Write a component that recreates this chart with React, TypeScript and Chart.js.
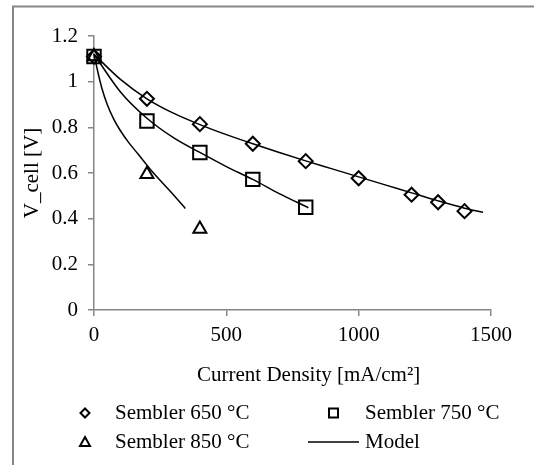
import React, { useEffect, useRef } from "react";
import { Chart, registerables } from "chart.js";

Chart.register(...registerables);

const currents650 = [0, 200, 400, 600, 800, 1000, 1200, 1300, 1400];
const volts650 = [1.11, 0.925, 0.814, 0.728, 0.652, 0.577, 0.505, 0.472, 0.433];

const currents750 = [0, 200, 400, 600, 800];
const volts750 = [1.11, 0.828, 0.69, 0.572, 0.45];

const currents850 = [0, 200, 400];
const volts850 = [1.11, 0.595, 0.355];

const modelX650 = [0, 100, 200, 300, 400, 500, 600, 700, 800, 900, 1000, 1100, 1200, 1300, 1400, 1470];
const modelV650 = [1.12, 1.01, 0.925, 0.862, 0.812, 0.768, 0.728, 0.69, 0.653, 0.618, 0.583, 0.548, 0.513, 0.478, 0.446, 0.428];

const modelX750 = [0, 100, 200, 300, 400, 500, 600, 700, 810];
const modelV750 = [1.12, 0.955, 0.84, 0.755, 0.69, 0.628, 0.572, 0.51, 0.448];

const modelX850 = [0, 15, 30, 50, 75, 100, 130, 165, 210, 260, 300, 345];
const modelV850 = [1.12, 1.04, 0.97, 0.9, 0.835, 0.785, 0.735, 0.685, 0.62, 0.555, 0.505, 0.445];

const xTicks = [0, 500, 1000, 1500];
const yTicks = [0, 0.2, 0.4, 0.6, 0.8, 1, 1.2];

const legendLabels = ["Sembler 650 °C", "Sembler 750 °C", "Sembler 850 °C", "Model"];
const xTitle = "Current Density [mA/cm²]";
const yTitle = "V_cell [V]";

const FONT = '"Liberation Serif", "Times New Roman", serif';
const AXIS = "#868686";

const toPts = (xs: number[], ys: number[]) => xs.map((x, i) => ({ x, y: ys[i] }));

const decorPlugin = {
  id: "decor",
  afterDraw(chart: any) {
    const ctx = chart.ctx as CanvasRenderingContext2D;
    ctx.save();
    ctx.strokeStyle = AXIS;
    ctx.lineWidth = 2;
    ctx.beginPath();
    ctx.moveTo(13, 465);
    ctx.lineTo(13, 6.5);
    ctx.lineTo(534, 6.5);
    ctx.stroke();

    ctx.fillStyle = "#000";
    ctx.font = `21px ${FONT}`;
    ctx.textAlign = "left";
    ctx.textBaseline = "middle";
    ctx.fillText(xTitle, 197, 375);
    ctx.save();
    ctx.translate(32, 173);
    ctx.rotate(-Math.PI / 2);
    ctx.textAlign = "center";
    ctx.fillText(yTitle, 0, 0);
    ctx.restore();

    const row1 = 413;
    const row2 = 442;
    ctx.fillText(legendLabels[0], 115, row1);
    ctx.fillText(legendLabels[1], 365, row1);
    ctx.fillText(legendLabels[2], 115, row2);
    ctx.fillText(legendLabels[3], 365, row2);

    ctx.strokeStyle = "#000";
    ctx.lineWidth = 2;
    ctx.beginPath();
    ctx.moveTo(85, row1 - 4.5);
    ctx.lineTo(89.5, row1);
    ctx.lineTo(85, row1 + 4.5);
    ctx.lineTo(80.5, row1);
    ctx.closePath();
    ctx.stroke();
    ctx.strokeRect(329, row1 - 4.5, 9, 9);
    ctx.beginPath();
    ctx.moveTo(85, row2 - 5);
    ctx.lineTo(90, row2 + 4);
    ctx.lineTo(80, row2 + 4);
    ctx.closePath();
    ctx.stroke();
    ctx.lineWidth = 1.5;
    ctx.beginPath();
    ctx.moveTo(308, row2);
    ctx.lineTo(359, row2);
    ctx.stroke();
    ctx.restore();
  },
};

export default function App() {
  const ref = useRef<HTMLCanvasElement | null>(null);
  useEffect(() => {
    if (!ref.current) return;
    Chart.defaults.font.family = FONT;
    const markerCommon = {
      showLine: false,
      borderColor: "#000",
      backgroundColor: "rgba(0,0,0,0)",
      borderWidth: 2,
      clip: false as any,
    };
    const modelCommon = {
      showLine: true,
      borderColor: "#000",
      backgroundColor: "#000",
      borderWidth: 1.5,
      pointRadius: 0,
      cubicInterpolationMode: "monotone" as const,
      clip: false as any,
    };
    const chart = new Chart(ref.current, {
      type: "scatter",
      data: {
        datasets: [
          { ...modelCommon, label: "Model 650", data: toPts(modelX650, modelV650) },
          { ...modelCommon, label: "Model 750", data: toPts(modelX750, modelV750) },
          { ...modelCommon, label: "Model 850", data: toPts(modelX850, modelV850) },
          { ...markerCommon, label: legendLabels[0], data: toPts(currents650, volts650), pointStyle: "rectRot", pointRadius: 7 },
          { ...markerCommon, label: legendLabels[1], data: toPts(currents750, volts750), pointStyle: "rect", pointRadius: 9.5 },
          { ...markerCommon, label: legendLabels[2], data: toPts(currents850, volts850), pointStyle: "triangle", pointRadius: 7.5 },
        ],
      },
      options: {
        responsive: false,
        animation: false,
        devicePixelRatio: 1,
        layout: { padding: { left: 0, top: 36, right: 43, bottom: 0 } },
        plugins: { legend: { display: false }, tooltip: { enabled: false } },
        scales: {
          x: {
            type: "linear",
            min: 0,
            max: 1500,
            afterFit: (s: any) => { s.height = 155; },
            afterBuildTicks: (s: any) => { s.ticks = xTicks.map((v) => ({ value: v })); },
            ticks: {
              color: "#000",
              font: { size: 21, family: FONT },
              padding: 7,
              maxRotation: 0,
              callback: (v: any) => String(Math.round(Number(v))),
            },
            grid: { display: true, drawOnChartArea: false, drawTicks: true, tickLength: 6, color: AXIS, lineWidth: 1.5 },
            border: { display: true, color: AXIS, width: 1.5 },
          },
          y: {
            type: "linear",
            min: 0,
            max: 1.2,
            afterFit: (s: any) => { s.width = 94; },
            afterBuildTicks: (s: any) => { s.ticks = yTicks.map((v) => ({ value: v })); },
            ticks: {
              color: "#000",
              font: { size: 21, family: FONT },
              padding: 10,
              callback: (v: any) => String(Math.round(Number(v) * 10) / 10),
            },
            grid: { display: true, drawOnChartArea: false, drawTicks: true, tickLength: 6, color: AXIS, lineWidth: 1.5 },
            border: { display: true, color: AXIS, width: 1.5 },
          },
        },
      },
      plugins: [decorPlugin],
    });
    return () => chart.destroy();
  }, []);
  return (
    <div style={{ position: "fixed", left: 0, top: 0, width: 534, height: 465, background: "#fff" }}>
      <canvas ref={ref} width={534} height={465} style={{ display: "block" }} />
    </div>
  );
}
